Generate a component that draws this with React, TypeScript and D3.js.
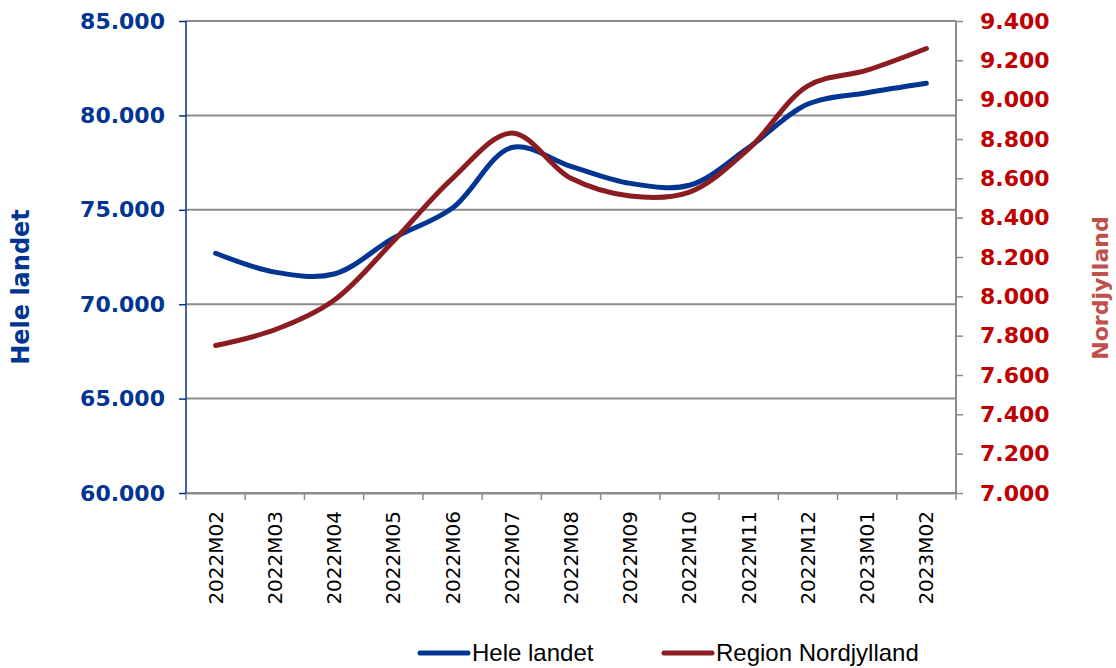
import * as d3 from 'd3';
import React, { useEffect, useRef } from 'react';

const months = ['2022M02', '2022M03', '2022M04', '2022M05', '2022M06', '2022M07', '2022M08', '2022M09', '2022M10', '2022M11', '2022M12', '2023M01', '2023M02'];
const heleLandet = [72700, 71700, 71600, 73500, 75100, 78300, 77300, 76400, 76300, 78300, 80600, 81200, 81700];
const nordjylland = [7750, 7830, 7980, 8280, 8600, 8830, 8600, 8510, 8530, 8750, 9070, 9150, 9260];
const leftTicks = [60000, 65000, 70000, 75000, 80000, 85000];
const rightTicks = [7000, 7200, 7400, 7600, 7800, 8000, 8200, 8400, 8600, 8800, 9000, 9200, 9400];

const BLUE = '#003591';
const RED = '#8b1c21';
const fmt = (v: number) => d3.format(',')(v).replace(/,/g, '.');

const App: React.FC = () => {
  const svgRef = useRef<SVGSVGElement>(null);
  const width = 1116;
  const height = 668;

  useEffect(() => {
    if (!svgRef.current) return;
    const svg = d3.select(svgRef.current);
    svg.selectAll('*').remove();

    const margin = { top: 21, right: 160, bottom: 175, left: 186 };
    const x0 = margin.left;
    const x1 = width - margin.right;
    const y0 = margin.top;
    const y1 = height - margin.bottom;

    const x = d3.scaleBand().domain(months).range([x0, x1]).padding(0);
    const yL = d3.scaleLinear().domain([60000, 85000]).range([y1, y0]);
    const yR = d3.scaleLinear().domain([7000, 9400]).range([y1, y0]);

    // gridlines
    svg.append('g')
      .selectAll('line')
      .data(leftTicks)
      .join('line')
      .attr('x1', x0).attr('x2', x1)
      .attr('y1', d => yL(d)).attr('y2', d => yL(d))
      .attr('stroke', '#8c8c8c')
      .attr('stroke-width', 2);

    // bottom axis
    const bottom = svg.append('g').attr('transform', `translate(0, ${y1})`)
      .call(d3.axisBottom(x).tickSize(0).tickPadding(0).tickFormat(() => ''));
    bottom.select('.domain').attr('stroke', '#8c8c8c').attr('stroke-width', 2);
    bottom.selectAll('.tick').remove();
    const bounds = months.map(m => x(m) as number).concat([x1]);
    bottom.selectAll('line.sep')
      .data(bounds)
      .join('line')
      .attr('class', 'sep')
      .attr('x1', d => d).attr('x2', d => d)
      .attr('y1', 0).attr('y2', 7)
      .attr('stroke', '#8c8c8c')
      .attr('stroke-width', 1.5);

    svg.append('g')
      .selectAll('text')
      .data(months)
      .join('text')
      .attr('transform', d => `translate(${(x(d) as number) + x.bandwidth() / 2 + 7}, ${y1 + 18}) rotate(-90)`)
      .attr('text-anchor', 'end')
      .attr('font-family', 'DejaVu Sans, Verdana, sans-serif')
      .attr('font-size', '20px')
      .attr('fill', '#000')
      .text(d => d);

    // right axis
    const right = svg.append('g').attr('transform', `translate(${x1}, 0)`)
      .call(d3.axisRight(yR).tickValues(rightTicks).tickSize(7).tickPadding(17).tickFormat(d => fmt(d as number)));
    right.select('.domain').attr('stroke', '#8c8c8c').attr('stroke-width', 2).attr('d', `M0,${y0}V${y1}`);
    right.selectAll('.tick line').attr('stroke', '#8c8c8c').attr('stroke-width', 1.5);
    right.selectAll('.tick text')
      .attr('font-family', 'DejaVu Sans, Verdana, sans-serif')
      .attr('font-weight', 'bold')
      .attr('font-size', '22px')
      .attr('fill', '#c00000');

    // left axis
    const left = svg.append('g').attr('transform', `translate(${x0}, 0)`)
      .call(d3.axisLeft(yL).tickValues(leftTicks).tickSize(7).tickPadding(14).tickFormat(d => fmt(d as number)));
    left.select('.domain').attr('stroke', BLUE).attr('stroke-width', 1.5).attr('d', `M0,${y0}V${y1}`);
    left.selectAll('.tick line').attr('stroke', BLUE).attr('stroke-width', 1.5);
    left.selectAll('.tick text')
      .attr('font-family', 'DejaVu Sans, Verdana, sans-serif')
      .attr('font-weight', 'bold')
      .attr('font-size', '22px')
      .attr('fill', BLUE);

    // axis titles
    svg.append('text')
      .attr('transform', `translate(29, 287) rotate(-90)`)
      .attr('text-anchor', 'middle')
      .attr('font-family', 'DejaVu Sans, Verdana, sans-serif')
      .attr('font-weight', 'bold')
      .attr('font-size', '24px')
      .attr('fill', BLUE)
      .text('Hele landet');

    svg.append('text')
      .attr('transform', `translate(1108, 288) rotate(-90)`)
      .attr('text-anchor', 'middle')
      .attr('font-family', 'DejaVu Sans, Verdana, sans-serif')
      .attr('font-weight', 'bold')
      .attr('font-size', '22px')
      .attr('fill', '#c0504d')
      .text('Nordjylland');

    // lines
    const cx = (i: number) => (x(months[i]) as number) + x.bandwidth() / 2;
    const lineL = d3.line<number>().x((_, i) => cx(i)).y(d => yL(d)).curve(d3.curveCatmullRom.alpha(0.5));
    const lineR = d3.line<number>().x((_, i) => cx(i)).y(d => yR(d)).curve(d3.curveCatmullRom.alpha(0.5));

    svg.append('path')
      .datum(heleLandet)
      .attr('d', lineL)
      .attr('fill', 'none')
      .attr('stroke', BLUE)
      .attr('stroke-width', 5)
      .attr('stroke-linecap', 'round');

    svg.append('path')
      .datum(nordjylland)
      .attr('d', lineR)
      .attr('fill', 'none')
      .attr('stroke', RED)
      .attr('stroke-width', 5)
      .attr('stroke-linecap', 'round');

    // legend
    const legendItems = [
      { label: 'Hele landet', color: BLUE, x: 420 },
      { label: 'Region Nordjylland', color: RED, x: 664 },
    ];
    const legend = svg.append('g').attr('transform', `translate(0, 653)`);
    legendItems.forEach(item => {
      legend.append('line')
        .attr('x1', item.x).attr('x2', item.x + 48)
        .attr('y1', 0).attr('y2', 0)
        .attr('stroke', item.color)
        .attr('stroke-width', 5)
        .attr('stroke-linecap', 'round');
      legend.append('text')
        .attr('x', item.x + 52)
        .attr('y', 8)
        .attr('font-family', 'Liberation Sans Narrow, Arial Narrow, sans-serif')
        .attr('font-size', '24px')
        .attr('fill', '#000')
        .text(item.label);
    });
  }, []);

  return (
    <div style={{ position: 'fixed', top: 0, left: 0, background: '#fff' }}>
      <svg ref={svgRef} width={width} height={height} style={{ display: 'block' }} />
    </div>
  );
};

export default App;
